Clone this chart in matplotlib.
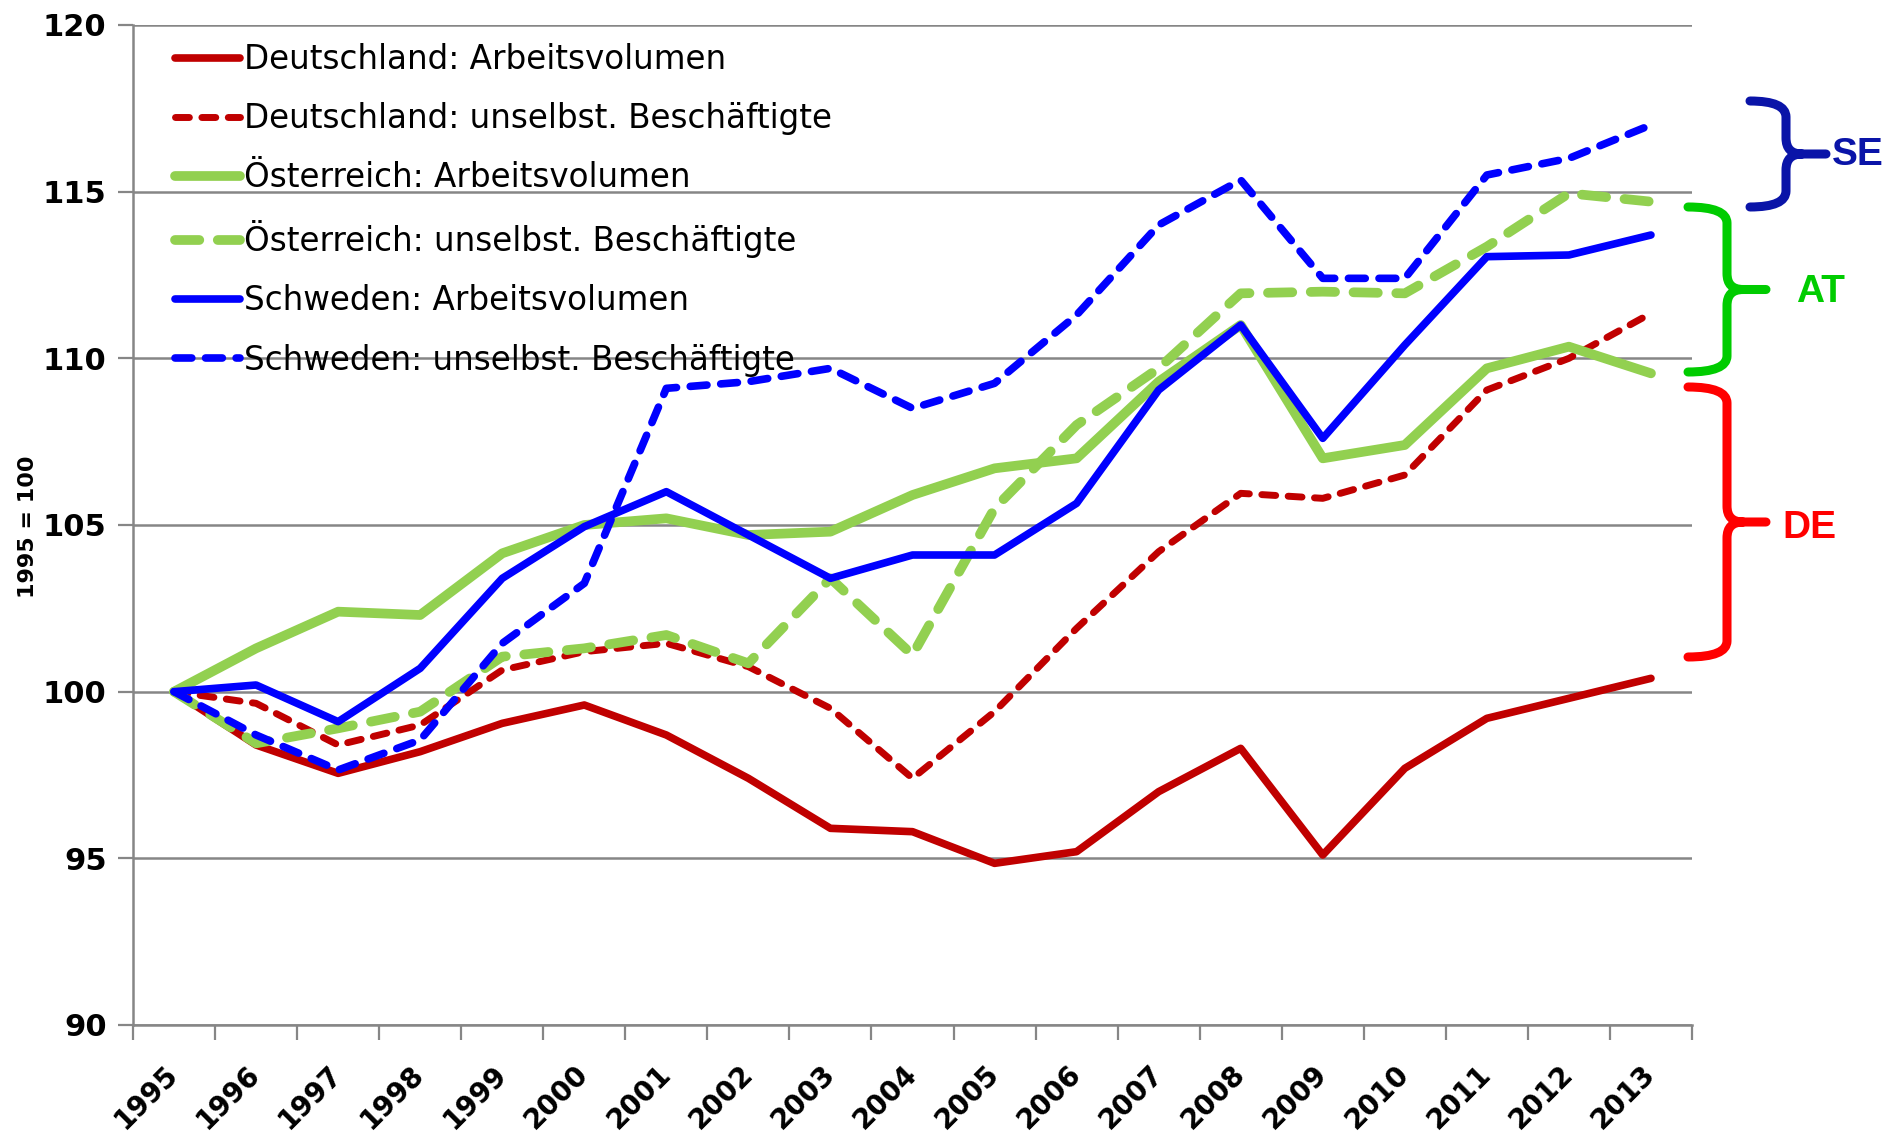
import matplotlib
matplotlib.use('Agg')
import matplotlib.pyplot as plt
from matplotlib.path import Path
from matplotlib.patches import PathPatch
from matplotlib.ticker import FixedLocator, NullFormatter

# Daten (1995 = 100)
years = ['1995', '1996', '1997', '1998', '1999', '2000', '2001', '2002', '2003', '2004',
         '2005', '2006', '2007', '2008', '2009', '2010', '2011', '2012', '2013']
de_av = [100, 98.4, 97.55, 98.2, 99.05, 99.6, 98.7, 97.4, 95.9, 95.8,
         94.85, 95.2, 97.0, 98.3, 95.1, 97.7, 99.2, 99.8, 100.4]
de_ub = [100, 99.65, 98.4, 99.0, 100.65, 101.2, 101.45, 100.75, 99.5, 97.4,
         99.4, 101.9, 104.2, 105.95, 105.8, 106.5, 109.05, 110.0, 111.35]
at_av = [100, 101.3, 102.4, 102.3, 104.15, 105.0, 105.2, 104.7, 104.8, 105.9,
         106.7, 107.0, 109.3, 111.0, 107.0, 107.4, 109.7, 110.35, 109.55]
at_ub = [100, 98.45, 98.9, 99.4, 101.05, 101.3, 101.7, 100.85, 103.4, 101.1,
         105.5, 108.0, 109.7, 111.95, 112.0, 111.95, 113.35, 114.95, 114.7]
se_av = [100, 100.2, 99.1, 100.7, 103.4, 104.95, 106.0, 104.7, 103.4, 104.1,
         104.1, 105.65, 109.05, 111.0, 107.6, 110.4, 113.05, 113.1, 113.7]
se_ub = [100, 98.7, 97.65, 98.55, 101.45, 103.25, 109.1, 109.3, 109.7, 108.5,
         109.25, 111.3, 114.0, 115.35, 112.4, 112.4, 115.5, 116.0, 117.0]

ROT = '#C00000'
GRUEN = '#92D050'
BLAU = '#0000FF'

W, H = 1890, 1131
fig = plt.figure(figsize=(W / 100, H / 100), dpi=100)
ax = fig.add_axes([133 / W, 1 - 1025 / H, (1692 - 133) / W, (1025 - 25) / H])

x = list(range(len(years)))
ax.plot(x, de_av, color=ROT, lw=5.5, solid_capstyle='round', label='Deutschland: Arbeitsvolumen')
ax.plot(x, de_ub, color=ROT, lw=5, ls=(0, (2.0, 1.8)), dash_capstyle='round',
        label='Deutschland: unselbst. Beschäftigte')
ax.plot(x, at_av, color=GRUEN, lw=7, solid_capstyle='round', label='Österreich: Arbeitsvolumen')
ax.plot(x, at_ub, color=GRUEN, lw=7, ls=(0, (2.5, 1.9)), dash_capstyle='round',
        label='Österreich: unselbst. Beschäftigte')
ax.plot(x, se_av, color=BLAU, lw=5.5, solid_capstyle='round', label='Schweden: Arbeitsvolumen')
ax.plot(x, se_ub, color=BLAU, lw=5.5, ls=(0, (2.2, 1.8)), dash_capstyle='round',
        label='Schweden: unselbst. Beschäftigte')

ax.set_xlim(-0.5, len(years) - 0.5)
ax.set_ylim(90, 120)
ax.set_yticks([90, 95, 100, 105, 110, 115, 120])
ax.yaxis.grid(True, color='#868686', lw=1.8)
ax.set_axisbelow(True)

# Kategorienachse: Striche an den Grenzen, Beschriftung in der Mitte
ax.xaxis.set_major_locator(FixedLocator([i - 0.5 for i in range(len(years) + 1)]))
ax.xaxis.set_major_formatter(NullFormatter())
ax.xaxis.set_minor_locator(FixedLocator(x))
ax.set_xticklabels(years, minor=True, rotation=45, ha='right', va='center',
                   rotation_mode='anchor', fontsize=20, fontweight='bold')
ax.tick_params(axis='x', which='major', length=11, width=1.6, color='#868686')
ax.tick_params(axis='x', which='minor', length=0, pad=32)
ax.tick_params(axis='y', length=11, width=1.6, color='#868686', labelsize=22, pad=8)
for lab in ax.get_yticklabels():
    lab.set_fontweight('bold')

for s in ['top', 'right']:
    ax.spines[s].set_visible(False)
for s in ['left', 'bottom']:
    ax.spines[s].set_color('#868686')
    ax.spines[s].set_linewidth(1.8)

fig.text(28 / W, 1 - 527 / H, '1995 = 100', rotation=90, ha='center', va='center',
         fontsize=16, fontweight='bold')

leg = ax.legend(loc='upper left', bbox_to_anchor=(0.027, 0.982), frameon=False,
                fontsize=23.5, handlelength=2.0, handletextpad=0.12, labelspacing=0.8,
                borderpad=0, borderaxespad=0)


# geschweifte Klammern rechts neben dem Diagramm (Pixelkoordinaten, y von oben)
def klammer(xa, xs, xt, y0, y1, farbe, r=16):
    ym = (y0 + y1) / 2
    pts = [(xa, y0), (xs, y0), (xs, y0 + r),
           (xs, ym - r), (xs, ym), (xs + r, ym),
           (xt, ym),
           (xs + r, ym), (xs, ym), (xs, ym + r),
           (xs, y1 - r), (xs, y1), (xa, y1)]
    codes = [Path.MOVETO, Path.CURVE3, Path.CURVE3,
             Path.LINETO, Path.CURVE3, Path.CURVE3,
             Path.LINETO,
             Path.MOVETO, Path.CURVE3, Path.CURVE3,
             Path.LINETO, Path.CURVE3, Path.CURVE3]
    pts = [(px / W, 1 - py / H) for px, py in pts]
    fig.patches.append(PathPatch(Path(pts, codes), fill=False, edgecolor=farbe, lw=6.5,
                                 capstyle='round', joinstyle='round',
                                 transform=fig.transFigure))


klammer(1750, 1786, 1826, 101, 207, '#0A14A8')
klammer(1688, 1727, 1766, 207, 372, '#00CC00')
klammer(1688, 1727, 1766, 387, 657, '#FF0000')

fig.text(1832 / W, 1 - 155 / H, 'SE', color='#0A14A8', fontsize=28, fontweight='bold',
         family='Liberation Sans', ha='left', va='center')
fig.text(1796 / W, 1 - 292 / H, 'AT', color='#00CC00', fontsize=28, fontweight='bold',
         family='Liberation Sans', ha='left', va='center')
fig.text(1782 / W, 1 - 528 / H, 'DE', color='#FF0000', fontsize=28, fontweight='bold',
         family='Liberation Sans', ha='left', va='center')

fig.savefig('out.png', dpi=100)
